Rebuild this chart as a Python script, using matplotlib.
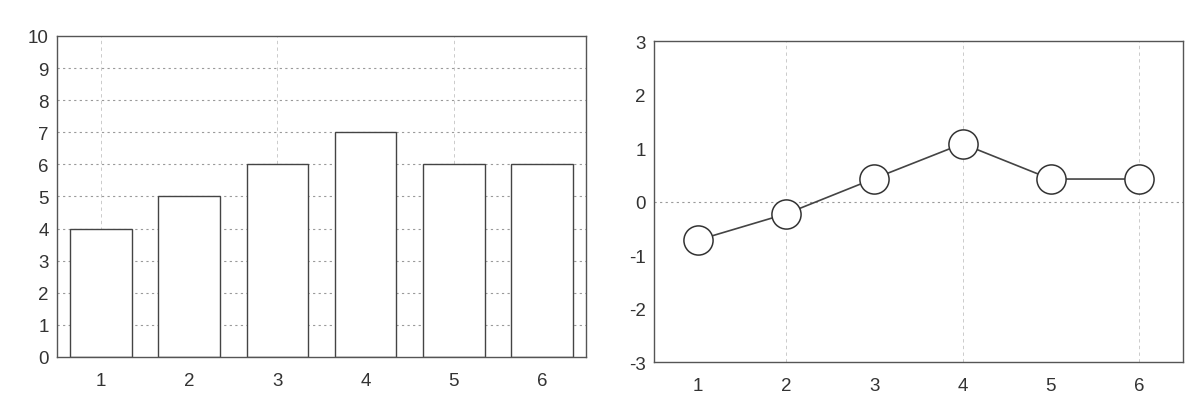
import matplotlib
matplotlib.use("Agg")
import matplotlib.pyplot as plt

# Data
categories = [1, 2, 3, 4, 5, 6]
bar_values = [4, 5, 6, 7, 6, 6]
line_values = [-0.72, -0.23, 0.43, 1.08, 0.42, 0.42]
bar_yticks = list(range(0, 11))
line_yticks = [-3, -2, -1, 0, 1, 2, 3]

plt.rcParams['font.family'] = ['Liberation Sans', 'DejaVu Sans']
plt.rcParams['axes.unicode_minus'] = False

fig = plt.figure(figsize=(12.03, 4.02), dpi=100)
fig.patch.set_facecolor('white')

spine_col = '#555555'
text_col = '#333333'
grid_col = '#9a9a9a'

ax1 = fig.add_axes([0.0474, 0.1095, 0.4397, 0.7985])
ax2 = fig.add_axes([0.5436, 0.0970, 0.4397, 0.7985])

# Left: bar chart
for y in bar_yticks[1:-1]:
    ax1.axhline(y, color=grid_col, lw=0.8, ls=(0, (2, 3)), zorder=0)
for x in [1, 3, 5]:
    ax1.axvline(x, color=grid_col, lw=0.6, ls=(0, (4, 4)), zorder=0, alpha=0.6)
ax1.bar(categories, bar_values, width=0.7, color='white', edgecolor='#444444',
        linewidth=1.0, zorder=2)
ax1.set_xlim(0.5, 6.5)
ax1.set_ylim(0, 10)
ax1.set_xticks(categories)
ax1.set_yticks(bar_yticks)

# Right: line chart
ax2.axhline(0, color=grid_col, lw=0.8, ls=(0, (2, 3)), zorder=0)
for x in [2, 4, 6]:
    ax2.axvline(x, color=grid_col, lw=0.6, ls=(0, (4, 4)), zorder=0, alpha=0.6)
ax2.plot(categories, line_values, color='#444444', lw=1.2, marker='o',
         markersize=21, markerfacecolor='white', markeredgecolor='#333333',
         markeredgewidth=1.1, zorder=3)
ax2.set_xlim(0.5, 6.5)
ax2.set_ylim(-3, 3)
ax2.set_xticks(categories)
ax2.set_yticks(line_yticks)

for ax in (ax1, ax2):
    ax.set_facecolor('white')
    for s in ax.spines.values():
        s.set_color(spine_col)
        s.set_linewidth(1.0)
    ax.tick_params(axis='both', length=0, labelsize=13.5, labelcolor=text_col)
    ax.tick_params(axis='y', pad=6)
    ax.tick_params(axis='x', pad=11)

fig.savefig('out.png', dpi=100, facecolor='white')
